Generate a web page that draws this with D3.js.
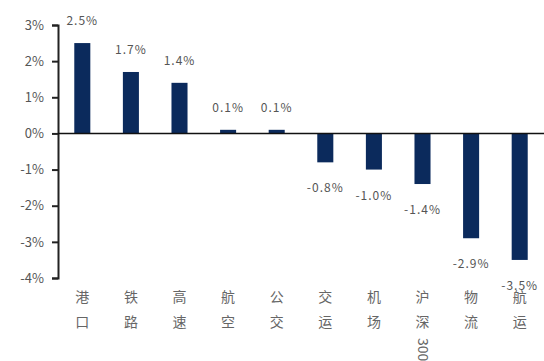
<!DOCTYPE html>
<meta charset="utf-8">
<script src="https://d3js.org/d3.v7.min.js"></script>
<style>
  body { margin: 0; background: #fff; }
  text { font-family: "Noto Sans CJK SC", "DejaVu Sans", sans-serif; }
</style>
<div id="my_dataviz"></div>
<script>

// data
var categories = ["港口", "铁路", "高速", "航空", "公交", "交运", "机场", "沪深300", "物流", "航运"];
var values = [2.5, 1.7, 1.4, 0.1, 0.1, -0.8, -1.0, -1.4, -2.9, -3.5];
var yTicks = [3, 2, 1, 0, -1, -2, -3, -4];

var width = 544, height = 361;

var svg = d3.select("#my_dataviz")
  .append("svg")
    .attr("width", width)
    .attr("height", height);

// scales
var x = d3.scaleBand()
  .domain(categories)
  .range([58, 544])
  .paddingInner(0.67)
  .paddingOuter(0.335);

var y = d3.scaleLinear()
  .domain([-4, 3])
  .range([278, 25]);

// bars
svg.append("g")
  .selectAll("rect")
  .data(values)
  .enter()
  .append("rect")
    .attr("x", function(d, i) { return x(categories[i]); })
    .attr("width", x.bandwidth())
    .attr("y", function(d) { return y(Math.max(0, d)); })
    .attr("height", function(d) { return Math.abs(y(d) - y(0)); })
    .style("fill", "#0b2a5c");

// Y axis
var yAxis = svg.append("g")
  .attr("transform", "translate(58,0)")
  .call(d3.axisLeft(y).tickValues(yTicks).tickSize(6).tickPadding(8)
    .tickFormat(function(d) { return d + "%"; }));
yAxis.select(".domain").attr("stroke", "#222").attr("stroke-width", 2);
yAxis.selectAll(".tick line").attr("stroke", "#222").attr("stroke-width", 2);
yAxis.selectAll(".tick text")
  .style("font-size", "13px")
  .style("fill", "#555");

// zero line
svg.append("line")
  .attr("x1", 58).attr("x2", 544)
  .attr("y1", y(0)).attr("y2", y(0))
  .attr("stroke", "#111")
  .attr("stroke-width", 1.5);

// value labels
svg.append("g")
  .selectAll("text")
  .data(values)
  .enter()
  .append("text")
    .attr("x", function(d, i) { return x(categories[i]) + x.bandwidth() / 2; })
    .attr("y", function(d) { return d >= 0 ? y(d) - 18 : y(d) + 30; })
    .attr("text-anchor", "middle")
    .style("font-size", "12px")
    .style("letter-spacing", "1px")
    .style("fill", "#555")
    .text(function(d) { return d.toFixed(1) + "%"; });

// category labels (vertical, chinese chars stacked, digits turned sideways)
var catG = svg.append("g");
categories.forEach(function(c) {
  var cx = x(c) + x.bandwidth() / 2;
  var han = c.replace(/[0-9]+/g, "");
  var num = c.replace(/[^0-9]+/g, "");
  catG.append("text")
    .attr("x", cx)
    .attr("y", 290)
    .style("writing-mode", "vertical-rl")
    .style("font-size", "14px")
    .style("letter-spacing", "11px")
    .style("fill", "#666")
    .text(han);
  if (num) {
    catG.append("text")
      .attr("transform", "translate(" + (cx - 5) + "," + 338 + ") rotate(90)")
      .style("font-size", "14px")
      .style("fill", "#666")
      .text(num);
  }
});

</script>
